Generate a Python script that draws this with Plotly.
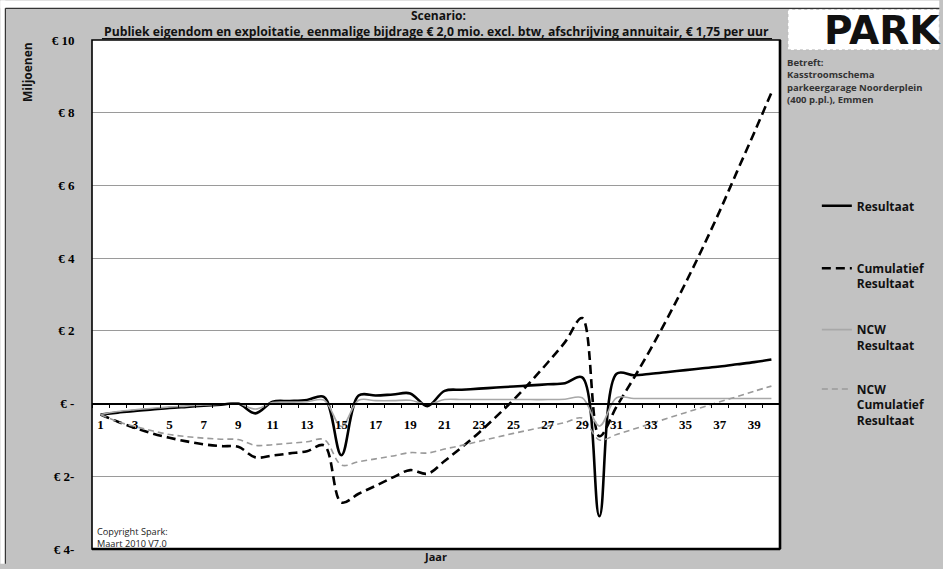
import plotly.graph_objects as go

# Years on the category axis
jaren = list(range(1, 41))

# Series values in millions of euros
resultaat = [-0.30, -0.25, -0.20, -0.16, -0.12, -0.09, -0.06, -0.03, 0.00, -0.27,
             0.05, 0.07, 0.10, 0.18, -1.42, 0.22, 0.22, 0.25, 0.28, -0.07,
             0.35, 0.38, 0.41, 0.44, 0.47, 0.50, 0.53, 0.56, 0.72, -3.10,
             0.82, 0.78, 0.82, 0.87, 0.92, 0.97, 1.02, 1.08, 1.14, 1.21]

cumulatief = [-0.30, -0.50, -0.67, -0.82, -0.94, -1.04, -1.12, -1.17, -1.19, -1.48,
              -1.43, -1.37, -1.31, -1.15, -2.72, -2.48, -2.26, -2.03, -1.83, -1.93,
              -1.58, -1.20, -0.80, -0.36, 0.10, 0.60, 1.13, 1.69, 2.35, -0.90,
              -0.08, 0.70, 1.52, 2.39, 3.31, 4.28, 5.30, 6.38, 7.45, 8.55]

ncw_resultaat = [-0.30, -0.22, -0.17, -0.13, -0.09, -0.07, -0.04, -0.02, 0.00, -0.15,
                 0.03, 0.04, 0.05, 0.09, -0.63, 0.09, 0.08, 0.08, 0.09, -0.02,
                 0.11, 0.11, 0.11, 0.11, 0.11, 0.11, 0.11, 0.12, 0.16, -0.62,
                 0.16, 0.14, 0.14, 0.14, 0.14, 0.14, 0.14, 0.14, 0.14, 0.14]

ncw_cumulatief = [-0.30, -0.50, -0.63, -0.75, -0.85, -0.91, -0.95, -0.98, -0.99, -1.15,
                  -1.13, -1.09, -1.05, -0.99, -1.69, -1.60, -1.52, -1.44, -1.35, -1.36,
                  -1.25, -1.15, -1.04, -0.93, -0.82, -0.72, -0.62, -0.52, -0.40, -1.00,
                  -0.85, -0.70, -0.55, -0.40, -0.25, -0.10, 0.05, 0.19, 0.34, 0.48]

# Axis ticks and labels
y_ticks = [-4, -2, 0, 2, 4, 6, 8, 10]
y_labels = ["€ 4-", "€ 2-", "€ -", "€ 2", "€ 4", "€ 6", "€ 8", "€ 10"]
x_labels = list(range(1, 41, 2))

Y_MIN, Y_MAX = -4, 10

W, H = 943, 569
L, R, T, B = 92, 783, 40, 554  # plot area in pixels


def px(x):
    return (x - L) / (R - L)


def py(y):
    return (B - y) / (B - T)


SANS = "Open Sans"
SERIF = "Liberation Serif"
BG = "#c2c2c2"

fig = go.Figure()

fig.add_trace(go.Scatter(
    x=jaren, y=resultaat, name="Resultaat", mode="lines",
    line=dict(color="black", width=2.6, shape="spline"), legend="legend"))
fig.add_trace(go.Scatter(
    x=jaren, y=cumulatief, name="Cumulatief<br>Resultaat", mode="lines",
    line=dict(color="black", width=2.6, dash="9px,5px", shape="spline"), legend="legend2"))
fig.add_trace(go.Scatter(
    x=jaren, y=ncw_resultaat, name="NCW<br>Resultaat", mode="lines",
    line=dict(color="#a8a8a8", width=1.6, shape="spline"), legend="legend3"))
fig.add_trace(go.Scatter(
    x=jaren, y=ncw_cumulatief, name="NCW<br>Cumulatief<br>Resultaat", mode="lines",
    line=dict(color="#9a9a9a", width=1.6, dash="6px,4px", shape="spline"), legend="legend4"))

legend_font = dict(family=SANS, size=12, color="#111", weight="bold")


def legend_at(top):
    return dict(x=px(820), y=py(top), xanchor="left", yanchor="top",
                bgcolor="rgba(0,0,0,0)", borderwidth=0, font=legend_font,
                valign="top", tracegroupgap=0)


fig.update_layout(
    width=W, height=H,
    margin=dict(l=L, r=W - R, t=T, b=H - B),
    paper_bgcolor=BG,
    plot_bgcolor="white",
    showlegend=True,
    legend=legend_at(193),
    legend2=legend_at(256),
    legend3=legend_at(318),
    legend4=legend_at(378),
    xaxis=dict(
        range=[0.5, 40.5], anchor="free",
        position=(0 - Y_MIN) / (Y_MAX - Y_MIN),
        tickvals=x_labels, ticktext=[str(v) for v in x_labels],
        ticks="outside", ticklen=9, tickcolor="rgba(0,0,0,0)",
        tickfont=dict(family=SERIF, size=13, color="black", weight="bold"),
        minor=dict(tick0=0.5, dtick=1, ticks="outside", ticklen=4,
                   tickcolor="black", tickwidth=1, showgrid=False),
        showline=True, linecolor="black", linewidth=1.6,
        showgrid=False, zeroline=False,
    ),
    yaxis=dict(
        range=[Y_MIN, Y_MAX], tickvals=y_ticks, ticktext=y_labels,
        ticks="outside", ticklen=14, tickcolor="rgba(0,0,0,0)",
        tickfont=dict(family=SERIF, size=13, color="black", weight="bold"),
        showgrid=True, gridcolor="#9a9a9a", gridwidth=1,
        zeroline=False, showline=False,
    ),
)

shapes = [
    # white margin strips along the top and left of the sheet
    dict(type="rect", xref="paper", yref="paper", x0=px(0), x1=px(W), y0=py(8), y1=py(0),
         fillcolor="white", line_width=0, layer="below"),
    dict(type="rect", xref="paper", yref="paper", x0=px(0), x1=px(5), y0=py(H), y1=py(0),
         fillcolor="white", line_width=0, layer="below"),
    dict(type="line", xref="paper", yref="paper", x0=px(5), x1=px(W), y0=py(8), y1=py(8),
         line=dict(color="#333", width=1.2)),
    dict(type="line", xref="paper", yref="paper", x0=px(5), x1=px(5), y0=py(8), y1=py(H),
         line=dict(color="#333", width=1.2)),
    # logo box
    dict(type="rect", xref="paper", yref="paper", x0=px(791), x1=px(W), y0=py(50), y1=py(9),
         fillcolor="white", line=dict(color="#bbb", width=1, dash="dot"), layer="below"),
    # underline of the scenario description
    dict(type="line", xref="paper", yref="paper", x0=px(102), x1=px(775), y0=py(38.6), y1=py(38.6),
         line=dict(color="#111", width=1.2)),
    # plot area frame
    dict(type="rect", xref="x domain", yref="y domain", x0=0, x1=1, y0=0, y1=1,
         line=dict(color="black", width=1.6), layer="above"),
    dict(type="line", xref="x domain", yref="y domain", x0=1, x1=1, y0=0, y1=1,
         line=dict(color="black", width=2.6), layer="above"),
    dict(type="line", xref="x domain", yref="y domain", x0=0, x1=1, y0=0, y1=0,
         line=dict(color="black", width=2.6), layer="above"),
]
fig.update_layout(shapes=shapes)

ann = []


def text(x, y, s, size, family=SANS, bold=True, color="#111", xanchor="center",
         yanchor="middle", angle=0, align="left"):
    ann.append(dict(
        x=px(x), y=py(y), xref="paper", yref="paper", text=s, showarrow=False,
        xanchor=xanchor, yanchor=yanchor, textangle=angle, align=align,
        font=dict(family=family, size=size, color=color, weight="bold" if bold else "normal")))


text(440, 15, "Scenario:", 12)
text(438, 31, "Publiek eigendom en exploitatie, eenmalige bijdrage € 2,0 mio. excl. btw, "
              "afschrijving annuitair, € 1,75 per uur", 12.2)
text(27, 72, "Miljoenen", 12, angle=-90)
text(437, 562, "Jaar", 11)
text(95, 542, "Copyright Spark:<br>Maart 2010 V7.0", 9.2, bold=False, color="#222",
     xanchor="left", align="left")
text(788, 81, "Betreft:<br>Kasstroomschema<br>parkeergarage Noorderplein<br>(400 p.pl.), Emmen",
     9.5, color="#333", xanchor="left", align="left")
text(825, 30, "PARK", 39, family="DejaVu Sans", color="#111", xanchor="left")

fig.update_layout(annotations=ann)

fig.write_html("out.html")
